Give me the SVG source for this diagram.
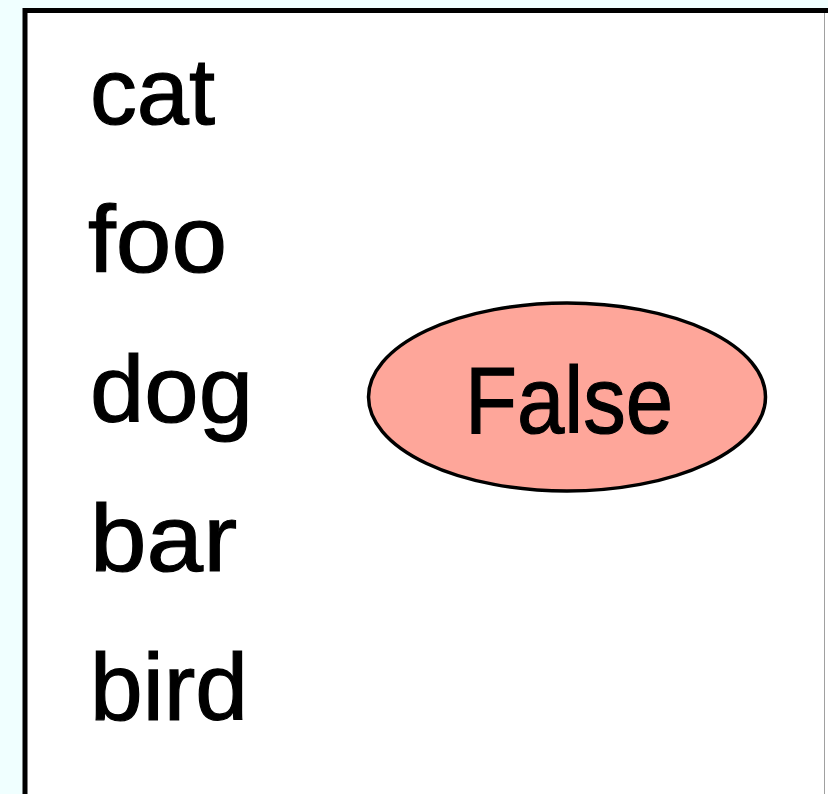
<svg xmlns="http://www.w3.org/2000/svg" width="828" height="794" viewBox="0 0 828 794">
  <style>
    .w { font-family: "Liberation Sans", "DejaVu Sans", sans-serif; font-size: 94px; fill: #000; stroke: #000; stroke-width: 1.2px; }
  </style>
  <rect x="0" y="0" width="828" height="794" fill="#f0ffff"/>
  <g id="box">
    <rect x="25" y="10.5" width="820" height="800" fill="#ffffff" stroke="#000" stroke-width="5"/>
    <line x1="824.5" y1="13" x2="824.5" y2="794" stroke="#a0a0a0" stroke-width="1"/>
  </g>
  <g id="words">
    <text class="w" x="90" y="124" textLength="125" lengthAdjust="spacingAndGlyphs">cat</text>
    <text class="w" x="88" y="272" textLength="139" lengthAdjust="spacingAndGlyphs">foo</text>
    <text class="w" x="90" y="422" textLength="163" lengthAdjust="spacingAndGlyphs">dog</text>
    <text class="w" x="90" y="571" textLength="147" lengthAdjust="spacingAndGlyphs">bar</text>
    <text class="w" x="90" y="720" textLength="158" lengthAdjust="spacingAndGlyphs">bird</text>
  </g>
  <g id="false-node">
    <ellipse cx="567" cy="397" rx="198.5" ry="94" fill="#fea69a" stroke="#000" stroke-width="3.5"/>
    <text class="w" x="465" y="433" textLength="208" lengthAdjust="spacingAndGlyphs" font-size="100">False</text>
  </g>
  <g id="connectors"/>
</svg>
